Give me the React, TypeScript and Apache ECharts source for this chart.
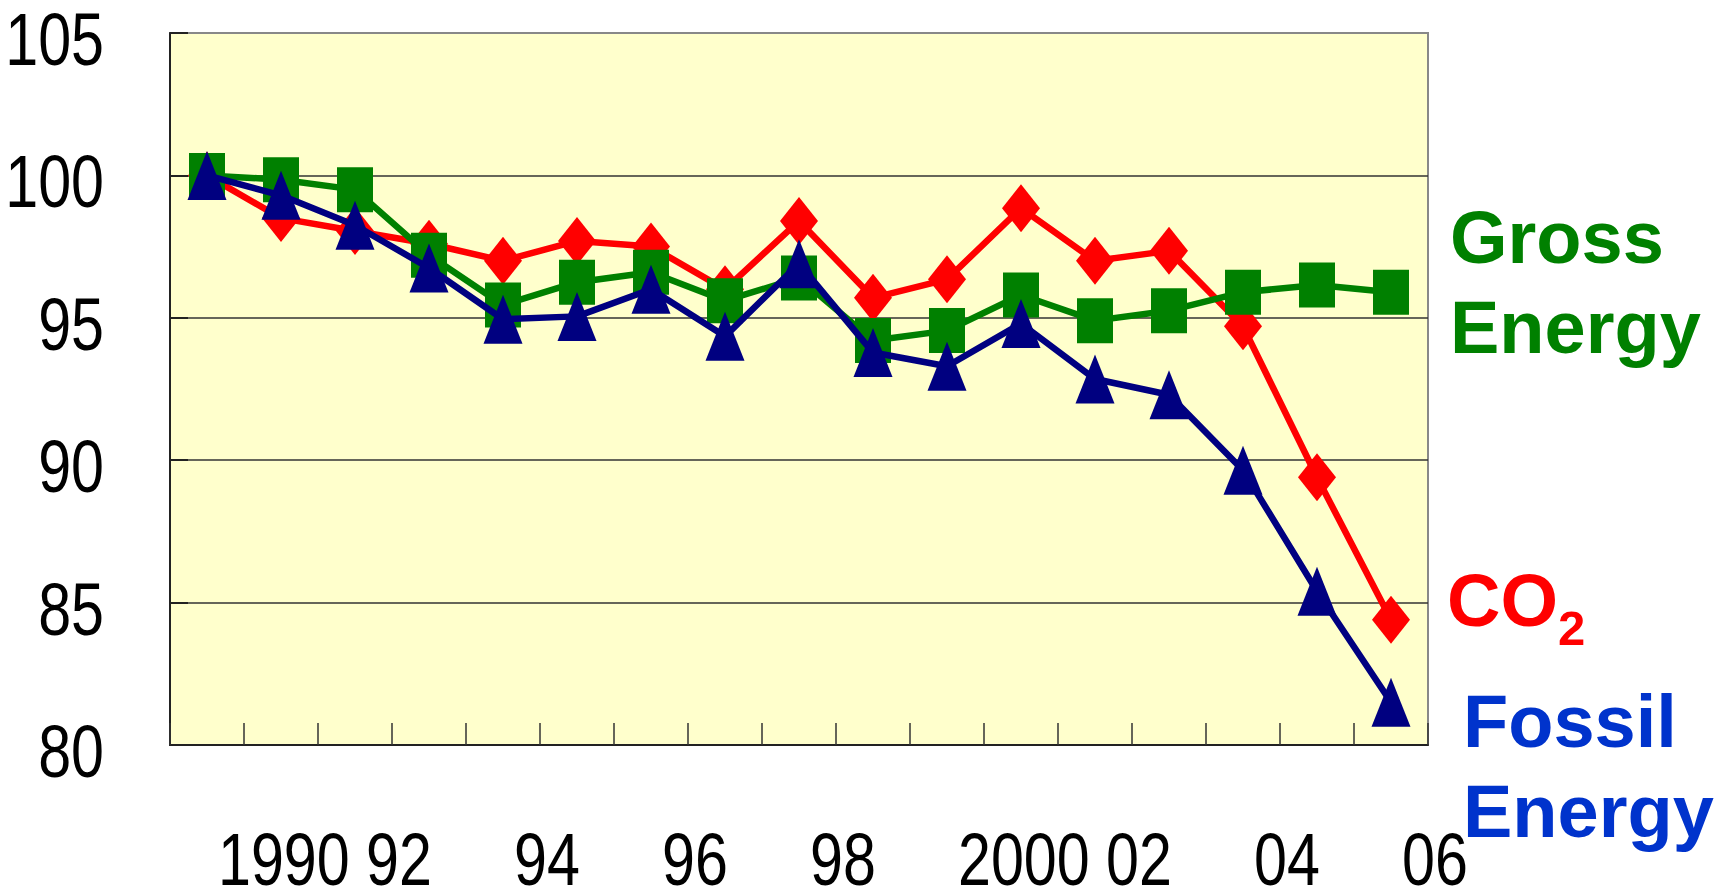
import React, { useEffect, useRef } from "react";
import * as echarts from "echarts";

const years = ["1990", "1991", "1992", "1993", "1994", "1995", "1996", "1997", "1998", "1999", "2000", "2001", "2002", "2003", "2004", "2005", "2006"];
const xTickLabels = ["1990", "", "92", "", "94", "", "96", "", "98", "", "2000", "", "02", "", "04", "", "06"];
const yTickValues = [80, 85, 90, 95, 100, 105];
const yTickLabels = ["80", "85", "90", "95", "100", "105"];
const co2 = [100, 98.5, 98.05, 97.6, 97.0, 97.7, 97.5, 96.0, 98.4, 95.7, 96.35, 98.85, 97.0, 97.35, 94.7, 89.4, 84.4];
const grossEnergy = [100, 99.85, 99.5, 97.2, 95.45, 96.25, 96.6, 95.6, 96.4, 94.2, 94.55, 95.8, 94.9, 95.25, 95.9, 96.15, 95.9];
const fossilEnergy = [100, 99.3, 98.25, 96.75, 94.95, 95.05, 96.0, 94.35, 96.9, 93.78, 93.3, 94.8, 92.85, 92.3, 89.65, 85.4, 81.5];

const TICK_FONT = "74px 'Liberation Sans', Arial, sans-serif";
const BOLD = "bold 74px 'Liberation Sans', Arial, sans-serif";

export default function App() {
  const ref = useRef<HTMLDivElement>(null);
  useEffect(() => {
    document.body.style.margin = "0";
    if (!ref.current) return;
    const chart = echarts.init(ref.current, undefined, { renderer: "svg" });
    chart.setOption({
      animation: false,
      backgroundColor: "#ffffff",
      grid: {
        left: 170,
        right: 295,
        top: 33,
        bottom: 147,
        show: true,
        backgroundColor: "#FFFFCC",
        borderColor: "#888888",
        borderWidth: 2,
      },
      xAxis: {
        type: "category",
        data: years,
        boundaryGap: true,
        axisLine: { show: true, lineStyle: { color: "#222", width: 2 } },
        axisTick: { show: true, inside: true, length: 22, interval: 0, lineStyle: { color: "#333", width: 1.5 } },
        axisLabel: { show: false },
        splitLine: { show: false },
      },
      yAxis: {
        type: "value",
        min: 80,
        max: 105,
        interval: 5,
        axisLine: { show: true, lineStyle: { color: "#222", width: 2 } },
        axisTick: { show: true, inside: true, length: 18, lineStyle: { color: "#222", width: 2 } },
        axisLabel: { show: false },
        splitLine: {
          show: true,
          lineStyle: { color: ["#222", "#333", "#333", "#333", "#333", "#888"], width: 1.5 },
        },
      },
      series: [
        {
          name: "CO2",
          type: "line",
          data: co2,
          symbol: "diamond",
          symbolSize: [38, 48],
          lineStyle: { color: "#FF0000", width: 6.5 },
          itemStyle: { color: "#FF0000" },
          z: 2,
        },
        {
          name: "Gross Energy",
          type: "line",
          data: grossEnergy,
          symbol: "rect",
          symbolSize: [36, 45],
          lineStyle: { color: "#008000", width: 6.5 },
          itemStyle: { color: "#008000" },
          z: 3,
        },
        {
          name: "Fossil Energy",
          type: "line",
          data: fossilEnergy,
          symbol: "triangle",
          symbolSize: [39, 49],
          lineStyle: { color: "#000080", width: 6.5 },
          itemStyle: { color: "#000080" },
          z: 4,
        },
        {
          name: "xTickLabels",
          type: "custom",
          silent: true,
          clip: false,
          z: 5,
          data: xTickLabels.map((_t, i) => [i, 80]),
          renderItem: (params: any, api: any) => {
            const text = xTickLabels[params.dataIndex];
            if (!text) return null;
            const pt = api.coord([api.value(0), 80]);
            return {
              type: "text",
              x: pt[0] + 11,
              y: pt[1] + 114,
              scaleX: 0.8,
              style: { text, font: TICK_FONT, lineHeight: 58, fill: "#000", align: "left", verticalAlign: "middle" },
            };
          },
        },
        {
          name: "yTickLabels",
          type: "custom",
          silent: true,
          clip: false,
          z: 5,
          data: yTickValues.map((v) => [0, v]),
          renderItem: (params: any, api: any) => {
            const pt = api.coord([0, api.value(1)]);
            return {
              type: "text",
              x: params.coordSys.x - 66,
              y: pt[1] + 6,
              scaleX: 0.8,
              style: { text: yTickLabels[params.dataIndex], font: TICK_FONT, lineHeight: 60, fill: "#000", align: "right", verticalAlign: "middle" },
            };
          },
        },
      ],
      graphic: [
        { type: "text", x: 1450, y: 237, style: { text: "Gross", font: BOLD, fill: "#008000", verticalAlign: "middle" } },
        { type: "text", x: 1450, y: 327, style: { text: "Energy", font: BOLD, fill: "#008000", verticalAlign: "middle" } },
        { type: "text", x: 1447, y: 600, style: { text: "CO", font: BOLD, fill: "#FF0000", verticalAlign: "middle" } },
        { type: "text", x: 1558, y: 628, style: { text: "2", font: "bold 49px 'Liberation Sans', Arial, sans-serif", fill: "#FF0000", verticalAlign: "middle" } },
        { type: "text", x: 1463, y: 721, style: { text: "Fossil", font: BOLD, fill: "#0033CC", verticalAlign: "middle" } },
        { type: "text", x: 1463, y: 811, style: { text: "Energy", font: BOLD, fill: "#0033CC", verticalAlign: "middle" } },
      ],
    });
    return () => chart.dispose();
  }, []);
  return <div ref={ref} style={{ width: 1723, height: 892 }} />;
}
